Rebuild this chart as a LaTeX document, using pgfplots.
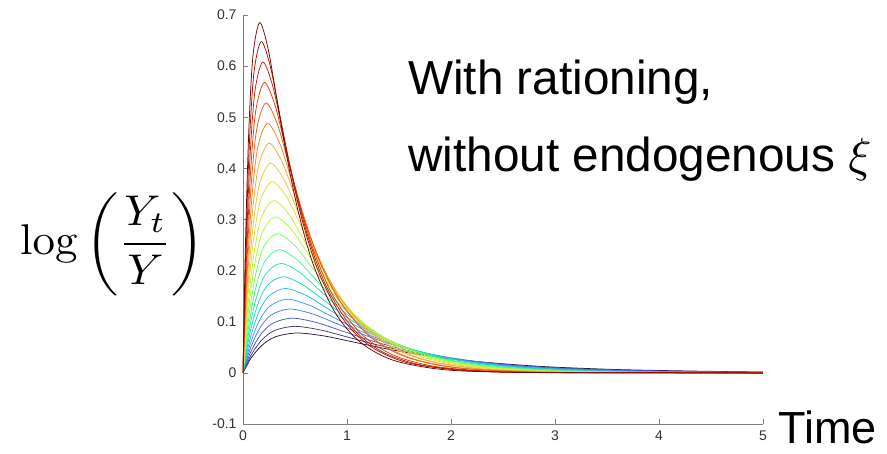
\documentclass[border=0pt]{standalone}
\usepackage[no-math]{fontspec}
\setmainfont{Liberation Sans}
\usepackage{graphicx}
\usepackage{pgfplots}
\pgfplotsset{compat=1.18}
\definecolor{t0}{HTML}{30123B}
\definecolor{t1}{HTML}{4145AB}
\definecolor{t2}{HTML}{4675ED}
\definecolor{t3}{HTML}{39A2FC}
\definecolor{t4}{HTML}{1BCFD4}
\definecolor{t5}{HTML}{24ECA6}
\definecolor{t6}{HTML}{61FC6C}
\definecolor{t7}{HTML}{A4FC3B}
\definecolor{t8}{HTML}{D1E834}
\definecolor{t9}{HTML}{F3C63A}
\definecolor{t10}{HTML}{FE9B2D}
\definecolor{t11}{HTML}{F36315}
\definecolor{t12}{HTML}{D93806}
\definecolor{t13}{HTML}{B11901}
\definecolor{t14}{HTML}{7A0403}
\colorlet{c0}{t0}
\colorlet{c1}{t1!70!t0}
\colorlet{c2}{t2!40!t1}
\colorlet{c3}{t3!10!t2}
\colorlet{c4}{t3!80!t2}
\colorlet{c5}{t4!50!t3}
\colorlet{c6}{t5!20!t4}
\colorlet{c7}{t5!90!t4}
\colorlet{c8}{t6!60!t5}
\colorlet{c9}{t7!30!t6}
\colorlet{c10}{t7}
\colorlet{c11}{t8!70!t7}
\colorlet{c12}{t9!40!t8}
\colorlet{c13}{t10!10!t9}
\colorlet{c14}{t10!80!t9}
\colorlet{c15}{t11!50!t10}
\colorlet{c16}{t12!20!t11}
\colorlet{c17}{t12!90!t11}
\colorlet{c18}{t13!60!t12}
\colorlet{c19}{t14!30!t13}
\colorlet{c20}{t14}
\begin{document}
\begin{tikzpicture}
\path[use as bounding box] (-243pt,-29pt) rectangle (644pt,424pt);
\begin{axis}[
  at={(0pt,0pt)}, anchor=south west,
  scale only axis, width=520pt, height=409pt,
  xmin=0, xmax=5, ymin=-0.1, ymax=0.7,
  axis x line*=bottom, axis y line*=left,
  axis line style={draw=black!50, -},
  tick style={draw=black!50, line width=0.6pt},
  tick align=inside, major tick length=5pt,
  xtick={0,1,2,3,4,5}, xticklabels={0,1,2,3,4,5},
  ytick={-0.1,0,0.1,0.2,0.3,0.4,0.5,0.6,0.7},
  yticklabels={-0.1,0,0.1,0.2,0.3,0.4,0.5,0.6,0.7},
  ticklabel style={font=\fontsize{14}{16}\selectfont, text=black!80},
  yticklabel style={xshift=-3pt},
  xticklabel style={yshift=-3pt},
  every axis plot/.append style={line width=0.75pt, no markers, smooth},
]
\addplot[c0] coordinates {(0,0) (0.078,0.0289) (0.182,0.0539) (0.312,0.0706) (0.52,0.078) (0.78,0.0722) (1.04,0.0613) (1.352,0.0481) (1.716,0.0352) (2.184,0.0233) (2.86,0.0127) (3.64,0.0063) (4.68,0.0024) (5,0.0018)};
\addplot[c1] coordinates {(0,0) (0.0743,0.0334) (0.1733,0.0626) (0.297,0.0823) (0.495,0.091) (0.7425,0.0840) (0.99,0.0709) (1.287,0.0550) (1.6335,0.0396) (2.079,0.0256) (2.7225,0.0134) (3.465,0.0063) (4.455,0.0023) (5,0.0013)};
\addplot[c2] coordinates {(0,0) (0.0705,0.0391) (0.1645,0.0735) (0.282,0.0966) (0.47,0.107) (0.705,0.0986) (0.94,0.0829) (1.222,0.0638) (1.551,0.0455) (1.974,0.0288) (2.585,0.0147) (3.29,0.0067) (4.23,0.0024) (5,0.0010)};
\addplot[c3] coordinates {(0,0) (0.0671,0.0457) (0.1565,0.0858) (0.2682,0.1129) (0.447,0.125) (0.6705,0.1152) (0.894,0.0969) (1.1622,0.0745) (1.4751,0.0531) (1.8774,0.0337) (2.4585,0.0172) (3.129,0.0079) (4.023,0.0028) (5,0.0009)};
\addplot[c4] coordinates {(0,0) (0.0636,0.0524) (0.1484,0.0986) (0.2544,0.1299) (0.424,0.144) (0.636,0.1325) (0.848,0.1108) (1.1024,0.0845) (1.3992,0.0594) (1.7808,0.0368) (2.332,0.0182) (2.968,0.0080) (3.816,0.0027) (5,0.0006)};
\addplot[c5] coordinates {(0,0) (0.0603,0.0600) (0.1407,0.1129) (0.2412,0.1489) (0.402,0.165) (0.603,0.1519) (0.804,0.1270) (1.0452,0.0968) (1.3266,0.0680) (1.6884,0.0422) (2.211,0.0208) (2.814,0.0091) (3.618,0.0030) (4.824,0.0006) (5,0.0005)};
\addplot[c6] coordinates {(0,0) (0.057,0.0684) (0.133,0.1287) (0.228,0.1696) (0.38,0.188) (0.57,0.1730) (0.76,0.1447) (0.988,0.1103) (1.254,0.0775) (1.596,0.0481) (2.09,0.0237) (2.66,0.0104) (3.42,0.0035) (4.56,0.0007) (5,0.0004)};
\addplot[c7] coordinates {(0,0) (0.0543,0.0775) (0.1267,0.1461) (0.2172,0.1929) (0.362,0.214) (0.543,0.1967) (0.724,0.1640) (0.9412,0.1243) (1.1946,0.0865) (1.5204,0.0529) (1.991,0.0254) (2.534,0.0109) (3.258,0.0035) (4.344,0.0006) (5,0.0002)};
\addplot[c8] coordinates {(0,0) (0.0518,0.0873) (0.1208,0.1646) (0.207,0.2172) (0.345,0.241) (0.5175,0.2216) (0.69,0.1847) (0.897,0.1399) (1.1385,0.0974) (1.449,0.0595) (1.8975,0.0286) (2.415,0.0122) (3.105,0.0039) (4.14,0.0007) (5,0.0002)};
\addplot[c9] coordinates {(0,0) (0.0492,0.0985) (0.1148,0.1857) (0.1968,0.2452) (0.328,0.272) (0.492,0.2501) (0.656,0.2084) (0.8528,0.1579) (1.0824,0.1099) (1.3776,0.0672) (1.804,0.0323) (2.296,0.0138) (2.952,0.0044) (3.936,0.0008) (5,0.0001)};
\addplot[c10] coordinates {(0,0) (0.0467,0.1105) (0.1089,0.2083) (0.1866,0.2749) (0.311,0.305) (0.4665,0.2804) (0.622,0.2337) (0.8086,0.1771) (1.0263,0.1233) (1.3062,0.0753) (1.7105,0.0363) (2.177,0.0155) (2.799,0.0050) (3.732,0.0009) (5,0.0001)};
\addplot[c11] coordinates {(0,0) (0.0443,0.1221) (0.1033,0.2301) (0.177,0.3037) (0.295,0.337) (0.4425,0.3098) (0.59,0.2582) (0.767,0.1957) (0.9735,0.1362) (1.239,0.0832) (1.6225,0.0401) (2.065,0.0171) (2.655,0.0055) (3.54,0.0010) (4.72,0.0001) (5,0.0001)};
\addplot[c12] coordinates {(0,0) (0.042,0.1355) (0.098,0.2554) (0.168,0.3371) (0.28,0.374) (0.42,0.3438) (0.56,0.2866) (0.728,0.2171) (0.924,0.1512) (1.176,0.0924) (1.54,0.0445) (1.96,0.0190) (2.52,0.0061) (3.36,0.0011) (4.48,0.0001) (5,0.0001)};
\addplot[c13] coordinates {(0,0) (0.0398,0.1485) (0.0928,0.2800) (0.159,0.3695) (0.265,0.41) (0.3975,0.3769) (0.53,0.3142) (0.689,0.2381) (0.8745,0.1657) (1.113,0.1013) (1.4575,0.0487) (1.855,0.0208) (2.385,0.0067) (3.18,0.0012) (4.24,0.0001) (5,0)};
\addplot[c14] coordinates {(0,0) (0.0375,0.1633) (0.0875,0.3073) (0.15,0.4050) (0.25,0.449) (0.375,0.4132) (0.5,0.3455) (0.65,0.2634) (0.825,0.1851) (1.05,0.1148) (1.375,0.0566) (1.75,0.0249) (2.25,0.0083) (3.0,0.0016) (4.0,0.0002) (5,0)};
\addplot[c15] coordinates {(0,0) (0.0353,0.1774) (0.0823,0.3340) (0.141,0.4402) (0.235,0.488) (0.3525,0.4491) (0.47,0.3755) (0.611,0.2863) (0.7755,0.2012) (0.987,0.1248) (1.2925,0.0615) (1.645,0.0270) (2.115,0.0090) (2.82,0.0017) (3.76,0.0002) (5,0)};
\addplot[c16] coordinates {(0,0) (0.033,0.1930) (0.077,0.3625) (0.132,0.4768) (0.22,0.528) (0.33,0.4868) (0.44,0.4091) (0.572,0.3147) (0.726,0.2243) (0.924,0.1421) (1.21,0.0725) (1.54,0.0332) (1.98,0.0117) (2.64,0.0024) (3.52,0.0003) (5,0)};
\addplot[c17] coordinates {(0,0) (0.0308,0.2077) (0.0718,0.3899) (0.123,0.5130) (0.205,0.568) (0.3075,0.5236) (0.41,0.4401) (0.533,0.3386) (0.6765,0.2413) (0.861,0.1529) (1.1275,0.0780) (1.435,0.0357) (1.845,0.0126) (2.46,0.0026) (3.28,0.0003) (5,0)};
\addplot[c18] coordinates {(0,0) (0.0285,0.2233) (0.0665,0.4185) (0.114,0.5496) (0.19,0.608) (0.285,0.5614) (0.38,0.4738) (0.494,0.3674) (0.627,0.2648) (0.798,0.1707) (1.045,0.0895) (1.33,0.0423) (1.71,0.0156) (2.28,0.0035) (3.04,0.0005) (5,0)};
\addplot[c19] coordinates {(0,0) (0.0263,0.2398) (0.0613,0.4480) (0.105,0.5867) (0.175,0.648) (0.2625,0.5997) (0.35,0.5091) (0.455,0.3992) (0.5775,0.2926) (0.735,0.1932) (0.9625,0.1052) (1.225,0.0520) (1.575,0.0203) (2.1,0.0050) (2.8,0.0008) (3.85,0.0001) (5,0)};
\addplot[c20] coordinates {(0,0) (0.024,0.2547) (0.056,0.4748) (0.096,0.6207) (0.16,0.685) (0.24,0.6353) (0.32,0.5420) (0.416,0.4287) (0.528,0.3182) (0.672,0.2140) (0.88,0.1198) (1.12,0.0612) (1.44,0.0250) (1.92,0.0065) (2.56,0.0011) (3.52,0.0001) (5,0)};
\end{axis}
\node[anchor=base west, inner sep=0pt] at (-223pt,169pt) {\scalebox{4.5}[4.3]{$\displaystyle\log\,\biggl(\frac{Y_t}{Y}\biggr)$}};
\node[anchor=base west, inner sep=0pt, font=\fontsize{45}{48}\selectfont] at (535pt,-19pt) {Time};
\node[anchor=base west, inner sep=0pt, font=\fontsize{47.7}{52}\selectfont] at (165pt,329pt) {With rationing,};
\node[anchor=base west, inner sep=0pt, font=\fontsize{47.7}{52}\selectfont] at (165pt,252pt) {without endogenous \scalebox{4.77}{\normalsize$\xi$}};
\end{tikzpicture}
\end{document}
